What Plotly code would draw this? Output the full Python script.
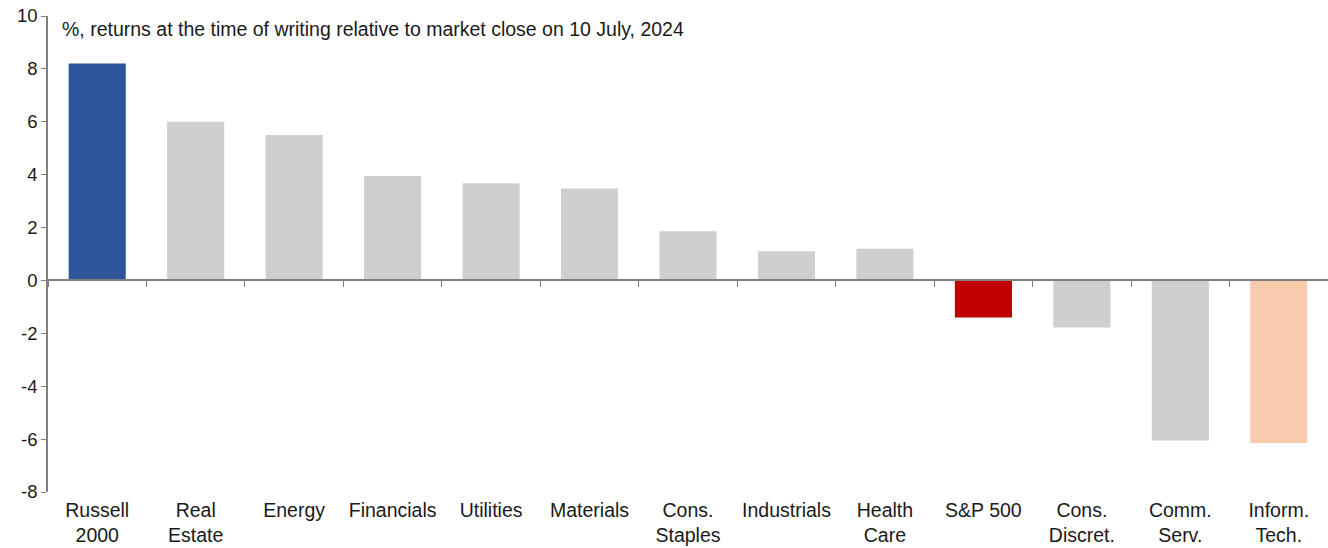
import plotly.graph_objects as go

categories = ["Russell<br>2000", "Real<br>Estate", "Energy", "Financials", "Utilities",
              "Materials", "Cons.<br>Staples", "Industrials", "Health<br>Care", "S&P 500",
              "Cons.<br>Discret.", "Comm.<br>Serv.", "Inform.<br>Tech."]
values = [8.2, 6.0, 5.5, 3.95, 3.68, 3.48, 1.86, 1.1, 1.2, -1.4, -1.78, -6.05, -6.15]
colors = ["#2E5597", "#D0CECE", "#D0CECE", "#D0CECE", "#D0CECE", "#D0CECE", "#D0CECE",
          "#D0CECE", "#D0CECE", "#C00000", "#D0CECE", "#D0CECE", "#F8CBAD"]
ytickvals = [-8, -6, -4, -2, 0, 2, 4, 6, 8, 10]
yticktext = ["-8", "-6", "-4", "-2", "0", "2", "4", "6", "8", "10"]
title_text = "%, returns at the time of writing relative to market close on 10 July, 2024"

FONT = "Arial, Liberation Sans, sans-serif"
AXC = "#7F7F7F"
ymin, ymax = -8, 10
FS = 19.5
xrange = [-0.5, len(categories) - 0.5]

fig = go.Figure()
fig.add_trace(go.Bar(x=categories, y=values, marker=dict(color=colors, line=dict(width=0)),
                     xaxis="x", yaxis="y", showlegend=False))
# invisible trace to carry the zero-line category axis
fig.add_trace(go.Scatter(x=categories, y=[0] * len(categories), xaxis="x2", yaxis="y",
                         mode="lines", line=dict(width=0), opacity=0, showlegend=False,
                         hoverinfo="skip"))

fig.update_layout(
    width=1328, height=548,
    margin=dict(l=48, r=0, t=16, b=56),
    paper_bgcolor="white", plot_bgcolor="white",
    font=dict(family=FONT, size=FS, color="#1A1A1A"),
    bargap=0.42,
    xaxis=dict(range=xrange, showline=False, ticks="", showgrid=False, zeroline=False,
               automargin=False, tickfont=dict(size=FS), ticklabelstandoff=4,
               ticklabeloverflow="allow"),
    xaxis2=dict(overlaying="x", range=xrange, anchor="free", automargin=False,
                position=(0 - ymin) / (ymax - ymin),
                showline=True, linecolor=AXC, linewidth=1.5,
                ticks="outside", tickson="boundaries", ticklen=6, tickcolor=AXC,
                showticklabels=False, showgrid=False, zeroline=False),
    yaxis=dict(range=[ymin, ymax], tickvals=ytickvals, ticktext=yticktext, showline=True,
               linecolor=AXC, automargin=False, ticklabeloverflow="allow",
               linewidth=1.5, ticks="outside", ticklen=5, tickcolor=AXC,
               showgrid=False, zeroline=False, tickfont=dict(size=18.5)),
    annotations=[dict(text=title_text, xref="paper", yref="paper", x=0.009, y=1.0,
                      xanchor="left", yanchor="top", showarrow=False,
                      font=dict(size=FS, color="#1A1A1A"))],
)

fig.write_html("out.html", config={"displayModeBar": False},
               post_script="document.body.style.margin='0';document.body.style.overflow='hidden';")
